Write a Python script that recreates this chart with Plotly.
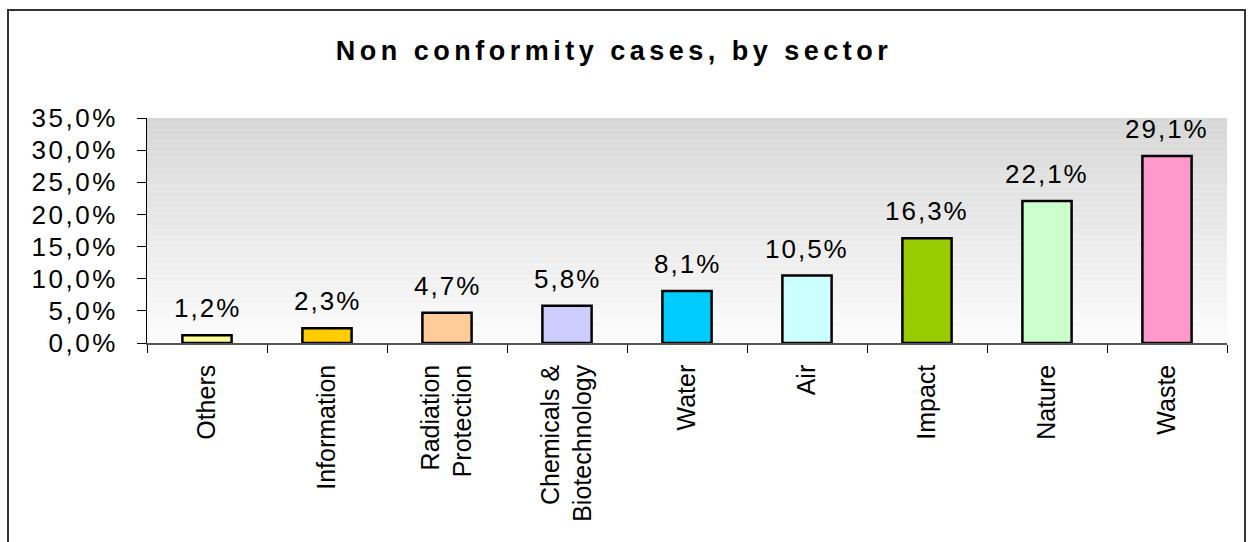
import plotly.graph_objects as go

sectors = ["Others", "Information", "Radiation<br>Protection", "Chemicals &<br>Biotechnology",
           "Water", "Air", "Impact", "Nature", "Waste"]
shares = [0.012, 0.023, 0.047, 0.058, 0.081, 0.105, 0.163, 0.221, 0.291]
bar_colors = ["#FFFF99", "#FFCC00", "#FFCC99", "#CCCCFF", "#00CCFF",
              "#CCFFFF", "#99CC00", "#CCFFCC", "#FF99CC"]

FONT = "Liberation Sans, Arial, sans-serif"

fig = go.Figure(
    go.Bar(
        x=sectors,
        y=shares,
        width=0.41,
        marker=dict(color=bar_colors, line=dict(color="#000000", width=2.5)),
        hoverinfo="skip",
    )
)

# value labels above bars
for s, v in zip(sectors, shares):
    fig.add_annotation(
        x=s, y=v, yanchor="bottom", yshift=10, showarrow=False,
        text=f"{v * 100:.1f}%".replace(".", ","),
        font=dict(family=FONT, size=26, color="#000000"),
    )

# gradient plot background (Excel style), drawn as thin bands
n_bands = 40
top, bottom = 215, 252
for i in range(n_bands):
    c = round(bottom + (top - bottom) * (i + 0.5) / n_bands)
    fig.add_shape(
        type="rect", xref="x domain", yref="y domain",
        x0=0, x1=1, y0=i / n_bands, y1=(i + 1) / n_bands,
        fillcolor=f"rgb({c},{c},{c})", line_width=0, layer="below",
    )

# outer chart border
W, H = 1249, 542
L, R, T, B = 147, 22, 118, 199
pw, ph = W - L - R, H - T - B
fig.add_shape(
    type="rect", xref="paper", yref="paper",
    x0=(8 - L) / pw, x1=(1245 - L) / pw,
    y0=(H - B - 600) / ph, y1=(H - B - 10) / ph,
    line=dict(color="#333333", width=2), fillcolor="rgba(0,0,0,0)", layer="below",
)

fig.update_layout(
    width=W, height=H,
    margin=dict(l=L, r=R, t=T, b=B),
    paper_bgcolor="white",
    plot_bgcolor="white",
    separators=",.",
    showlegend=False,
    title=dict(
        text="<b>Non conformity cases, by sector</b>",
        x=614 / W, xanchor="center", y=1 - 51 / H, yanchor="middle",
        yref="container",
        font=dict(family=FONT, size=27, color="#000000"),
    ),
    font=dict(family=FONT, color="#000000"),
)

fig.update_yaxes(
    range=[0, 0.35], dtick=0.05, tickformat=".1%",
    showgrid=False, zeroline=False,
    showline=True, linecolor="#000000", linewidth=1,
    ticks="outside", ticklen=9, tickcolor="#000000",
    tickfont=dict(family=FONT, size=26),
    ticklabelstandoff=14,
)
fig.update_xaxes(
    tickangle=-90, tickson="boundaries",
    showline=True, linecolor="#555555", linewidth=1.5,
    ticks="outside", ticklen=8, tickcolor="#000000",
    tickfont=dict(family=FONT, size=25),
    ticklabelstandoff=10,
    showgrid=False,
)

post = """
document.body.style.margin = '0';
var gd = document.getElementById('{plot_id}');
function spacing() {
  gd.querySelectorAll('.ytick text').forEach(function (t) { t.style.letterSpacing = '2.5px'; });
  gd.querySelectorAll('.annotation-text').forEach(function (t) { t.style.letterSpacing = '2px'; });
  gd.querySelectorAll('.gtitle').forEach(function (t) { t.style.letterSpacing = '4.5px'; });
}
spacing();
gd.on('plotly_afterplot', spacing);
"""

fig.write_html("out.html", post_script=post, config={"displayModeBar": False})
